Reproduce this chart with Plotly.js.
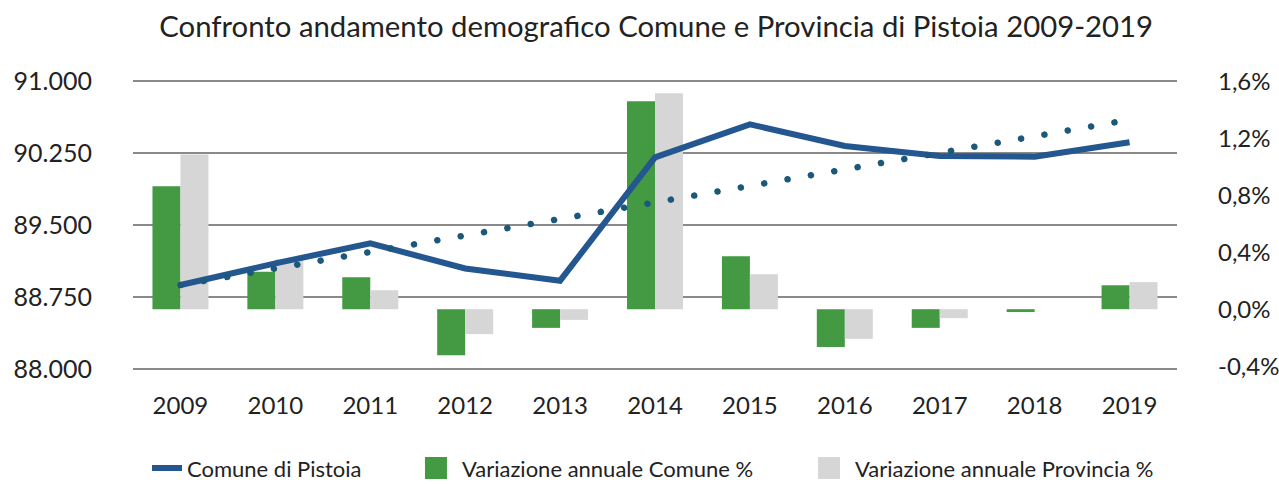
<!DOCTYPE html>
<html>
<head>
<meta charset="utf-8">
<script src="https://cdn.plot.ly/plotly-3.0.1.min.js"></script>
<style>
html,body{margin:0;padding:0;background:#fff;}
#chart{width:1279px;height:484px;}
.overplot .scatterlayer .trace:nth-of-type(2) path.js-line{stroke-linecap:round;}
</style>
</head>
<body>
<div id="chart"></div>
<script>
const years = ['2009','2010','2011','2012','2013','2014','2015','2016','2017','2018','2019'];
const comunePop = [88875, 89100, 89309, 89047, 88920, 90205, 90549, 90323, 90219, 90211, 90361];
const trendYears = ['2009','2019'];
const trendPop = [88875, 90596];
const varComune = [0.863, 0.262, 0.225, -0.323, -0.131, 1.46, 0.372, -0.265, -0.131, -0.02, 0.168];
const varProvincia = [1.086, 0.35, 0.133, -0.175, -0.075, 1.516, 0.246, -0.208, -0.063, 0.0, 0.19];
const leftTickVals = [88000, 88750, 89500, 90250, 91000];
const leftTickText = ['88.000', '88.750', '89.500', '90.250', '91.000'];
const rightTickVals = [-0.4, 0, 0.4, 0.8, 1.2, 1.6];
const rightTickText = ['-0,4%', '0,0%', '0,4%', '0,8%', '1,2%', '1,6%'];

const FONT = 'Lato, "Open Sans", sans-serif';
const TXT = '#222222';

const traces = [
  {type:'scatter', mode:'lines', x:years, y:comunePop, yaxis:'y2', name:'Comune di Pistoia',
   legend:'legend', line:{color:'#245690', width:6}, hoverinfo:'skip'},
  {type:'scatter', mode:'lines', x:trendYears, y:trendPop, yaxis:'y2', showlegend:false,
   line:{color:'#1A587C', width:6.5, dash:'0.1px,23.6px'}, hoverinfo:'skip'},
  {type:'bar', x:years, y:varComune, yaxis:'y', name:'Variazione annuale Comune %',
   legend:'legend2', marker:{color:'#439A43'}, hoverinfo:'skip'},
  {type:'bar', x:years, y:varProvincia, yaxis:'y', name:'Variazione annuale Provincia %',
   legend:'legend3', marker:{color:'#D6D6D6'}, hoverinfo:'skip'}
];

const legendBase = {orientation:'h', xanchor:'left', y:-0.327, yanchor:'middle',
  font:{family:FONT, size:22, color:TXT}, bgcolor:'rgba(0,0,0,0)', borderwidth:0};

const layout = {
  width:1279, height:484,
  margin:{l:133, r:102, t:78, b:112, autoexpand:false},
  paper_bgcolor:'#ffffff', plot_bgcolor:'#ffffff',
  font:{family:FONT, color:TXT, size:24},
  title:{text:'Confronto andamento demografico Comune e Provincia di Pistoia 2009-2019',
         font:{family:FONT, size:29.3, color:TXT}, x:0.513, xanchor:'center', y:0.944, yanchor:'middle'},
  barmode:'group', bargap:0.41, bargroupgap:0,
  showlegend:true,
  legend:Object.assign({}, legendBase, {x:0.0134}),
  legend2:Object.assign({}, legendBase, {x:0.2768}),
  legend3:Object.assign({}, legendBase, {x:0.6533}),
  xaxis:{type:'category', showgrid:false, zeroline:false, showline:false, ticks:'',
         tickfont:{family:FONT, size:24, color:TXT}, ticklabelstandoff:17, automargin:false},
  yaxis:{side:'right', range:[-0.4407, 1.6225], tickvals:rightTickVals, ticktext:rightTickText,
         showgrid:false, zeroline:false, showline:false, ticks:'', automargin:false,
         tickfont:{family:FONT, size:24, color:TXT}, ticklabelstandoff:40},
  yaxis2:{overlaying:'y', side:'left', range:[87968.75, 91031.25], tickvals:leftTickVals, ticktext:leftTickText,
          showgrid:true, gridcolor:'#8A8A8A', gridwidth:2, zeroline:false, showline:false, ticks:'', automargin:false,
          tickfont:{family:FONT, size:25, color:TXT}, ticklabelstandoff:40}
};

Plotly.newPlot('chart', traces, layout, {staticPlot:true, displayModeBar:false}).then(function(gd){
  gd.querySelectorAll('.legendpoints path').forEach(function(p){
    var d = p.getAttribute('d') || '';
    if (/h30/.test(d)) {
      p.setAttribute('d', 'M5,0h20');
    } else if (d.indexOf('M6,6H-6V-6H6Z') === 0) {
      p.setAttribute('d', 'M5,11H-17V-11H5Z');
    }
  });
});
</script>
</body>
</html>
